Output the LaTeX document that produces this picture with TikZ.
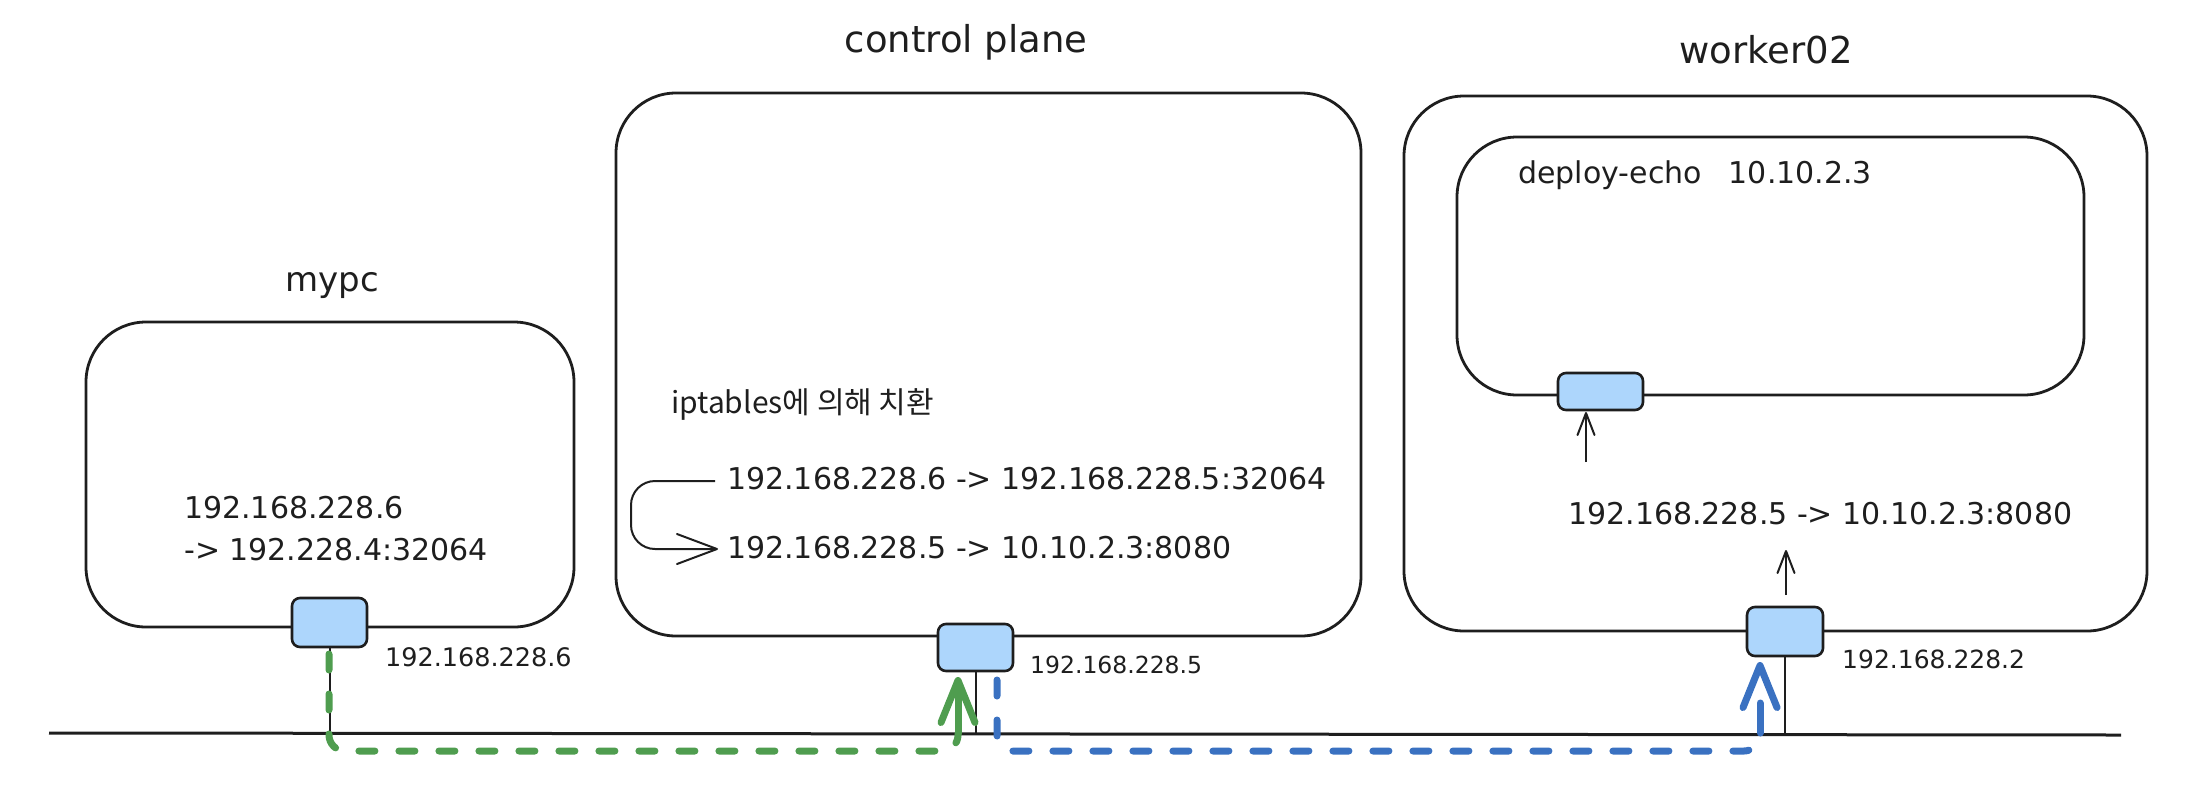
\documentclass[tikz,border=0pt]{standalone}
\usepackage{fontspec}
\setmainfont{DejaVu Sans}
\newfontfamily\krfont{Noto Sans CJK KR}
\usetikzlibrary{arrows.meta}
\definecolor{ink}{HTML}{1E1E1E}
\definecolor{nicblue}{HTML}{ADD6FC}
\definecolor{pgreen}{HTML}{4F9D4F}
\definecolor{pblue}{HTML}{3A71C1}
\begin{document}
\begin{tikzpicture}[x=1pt,y=-1pt,
  hostbox/.style={draw=ink, line width=2.8pt, rounded corners=60pt, inner sep=0pt, outer sep=0pt},
  nic/.style={draw=ink, fill=nicblue, line width=2.6pt, rounded corners=8pt, inner sep=0pt, outer sep=0pt},
  txt/.style={text=ink, font=\fontsize{30}{36}\selectfont, inner sep=0pt, anchor=base west},
  small/.style={text=ink, inner sep=0pt, anchor=base west},
  title/.style={text=ink, font=\fontsize{37}{44}\selectfont, inner sep=0pt, anchor=base},
  wire/.style={draw=ink, line width=2pt},
  thinarrow/.style={draw=ink, line width=2pt, line join=round, -{Straight Barb[length=22pt,width=17pt,round]}},
  bigarrow/.style={line width=2pt, line join=round, -{Straight Barb[length=40pt,width=30pt,round]}},
  gdash/.style={draw=pgreen, line width=7pt, line cap=round, dash pattern=on 16pt off 24pt, rounded corners=16pt},
  bdash/.style={draw=pblue, line width=7pt, line cap=round, dash pattern=on 16pt off 24pt, rounded corners=16pt},
  garrow/.style={draw=pgreen, line width=7pt, line cap=round, -{Straight Barb[length=42pt,width=34pt,round]}},
  barrow/.style={draw=pblue, line width=7pt, line cap=round, dash pattern=on 30pt off 200pt, -{Straight Barb[length=42pt,width=34pt,round]}}
]
\useasboundingbox (0,0) rectangle (2202,804);

% titles
\node[title, font=\fontsize{34}{40}\selectfont] (tmypc) at (332,291) {mypc};
\node[title] (tcp) at (966,52) {control plane};
\node[title] (twk) at (1766,63) {worker02};

% host boxes
\node[hostbox, minimum width=488pt, minimum height=305pt] (mypc) at (330,474.5) {};
\node[hostbox, minimum width=745pt, minimum height=543pt] (cp) at (988.5,364.5) {};
\node[hostbox, minimum width=743pt, minimum height=535pt] (wk) at (1775.5,363.5) {};
\node[hostbox, minimum width=627pt, minimum height=258pt] (pod) at (1770.5,266) {};

% texts
\node[txt] (m1) at (184,518) {192.168.228.6};
\node[txt] (m2) at (184,560) {-> 192.228.4:32064};
\node[txt, font=\krfont\fontsize{30}{36}\selectfont] (ipt) at (671,413) {iptables에 의해 치환};
\node[txt] (cp1) at (727,489) {192.168.228.6 -> 192.168.228.5:32064};
\node[txt] (cp2) at (727,558) {192.168.228.5 -> 10.10.2.3:8080};
\node[txt] (podl) at (1518,183) {deploy-echo\hspace{27pt}10.10.2.3};
\node[txt] (wkt) at (1568,524) {192.168.228.5 -> 10.10.2.3:8080};

% NAT loop arrow
\coordinate (la) at (715,481);
\coordinate (lb) at (718,549);
\draw[bigarrow, draw=ink, rounded corners=24pt] (la) -- (631,481) -- (631,549) -- (lb);

% ground line
\coordinate (gl) at (49,733);
\coordinate (gr) at (2121,735);
\draw[draw=ink, line width=3pt] (gl) -- (gr);

% NICs
\node[nic, minimum width=75pt, minimum height=49pt] (nicA) at (329.5,622.5) {};
\node[nic, minimum width=75pt, minimum height=47pt] (nicB) at (975.5,647.5) {};
\node[nic, minimum width=76pt, minimum height=49pt] (nicC) at (1785,631.5) {};
\node[nic, minimum width=85pt, minimum height=37pt] (nicD) at (1600.5,391.5) {};

% NIC labels
\node[small, font=\fontsize{25.5}{30}\selectfont] (lbA) at (385,666) {192.168.228.6};
\node[small, font=\fontsize{23.5}{28}\selectfont] (lbB) at (1030,673) {192.168.228.5};
\node[small, font=\fontsize{25}{30}\selectfont] (lbC) at (1842,668) {192.168.228.2};

% NIC wires to ground
\draw[wire] (nicA.south) -- (nicA.south |- gl);
\draw[wire] (nicB.south) -- (nicB.south |- gl);
\draw[wire] (nicC.south) -- (nicC.south |- gl);

% worker internal arrows
\coordinate (wa1) at (1786,595);
\coordinate (wa2) at (1786,550);
\draw[thinarrow] (wa1) -- (wa2);
\coordinate (pa1) at (1586,462);
\coordinate (pa2) at (1586,412);
\draw[thinarrow] (pa1) -- (pa2);

% green path: mypc -> control plane
\coordinate (g0) at (329,654);
\coordinate (g1) at (329,751);
\coordinate (g2) at (958,751);
\coordinate (g3) at (958,733);
\coordinate (gtip) at (958,677);
\draw[gdash] (g0) -- (g1) -- (g2) -- (g3);
\draw[garrow] (g3) -- (gtip);

% blue path: control plane -> worker02
\coordinate (b0) at (997,680);
\coordinate (b1) at (997,751);
\coordinate (b2) at (1760,751);
\coordinate (b3) at (1760,733);
\coordinate (btip) at (1760,662);
\draw[bdash] (b0) -- (b1) -- (b2) -- (b3);
\draw[barrow] (b3) -- (btip);
\end{tikzpicture}
\end{document}
